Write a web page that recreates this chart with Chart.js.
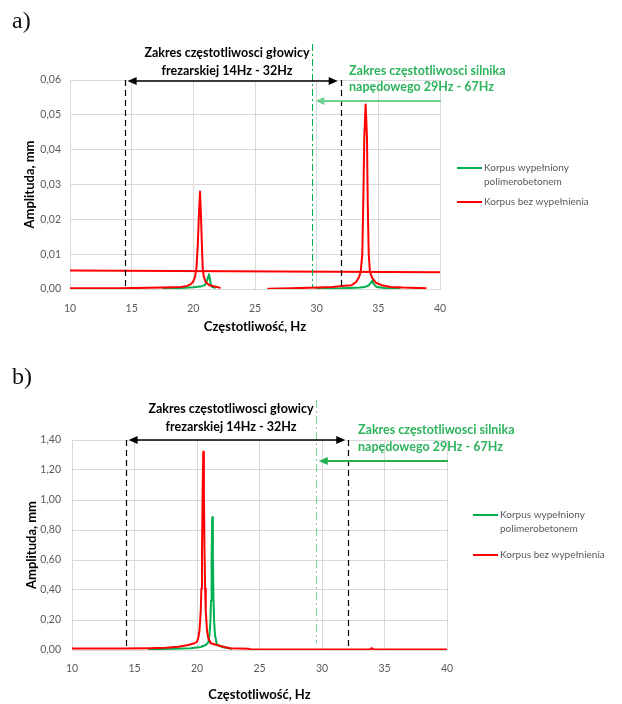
<!DOCTYPE html>
<html>
<head>
<meta charset="utf-8">
<script src="https://cdn.jsdelivr.net/npm/chart.js@4.4.1/dist/chart.umd.min.js"></script>
<style>
html,body{margin:0;padding:0;background:#fff;overflow:hidden;}
#wrap{position:relative;width:622px;height:704px;}
canvas{position:absolute;left:0;}
.tag{position:absolute;left:12px;font-family:"Liberation Serif","DejaVu Serif",serif;font-size:24px;color:#111;line-height:1;}
</style>
</head>
<body>
<div id="wrap">
  <canvas id="c-a" width="622" height="350" style="top:0"></canvas>
  <canvas id="c-b" width="622" height="354" style="top:350px"></canvas>
  <div class="tag" style="top:8px">a)</div>
  <div class="tag" style="top:364px">b)</div>
</div>
<script>
// axis ticks
var xTicks = [10, 15, 20, 25, 30, 35, 40];
var yTicksA = [0, 0.01, 0.02, 0.03, 0.04, 0.05, 0.06];
var yLabelsA = ['0,00', '0,01', '0,02', '0,03', '0,04', '0,05', '0,06'];
var yTicksB = [0, 0.2, 0.4, 0.6, 0.8, 1.0, 1.2, 1.4];
var yLabelsB = ['0,00', '0,20', '0,40', '0,60', '0,80', '1,00', '1,20', '1,40'];

var legendLabels = [['Korpus wypełniony', 'polimerobetonem'], ['Korpus bez wypełnienia']];
var millText = ['Zakres częstotliwosci głowicy', 'frezarskiej 14Hz - 32Hz'];
var motorText = ['Zakres częstotliwosci silnika', 'napędowego 29Hz - 67Hz'];

// a) Korpus bez wypełnienia
var hzRedA = [10, 14, 17.5, 19.0, 19.5, 19.8, 20.0, 20.14, 20.25, 20.35, 20.45, 20.54, 20.62, 20.7, 20.76, 20.85, 21.0, 21.3, 21.9, 22.2, 24,
  26, 28, 30, 31.3, 32.3, 32.84, 33.2, 33.45, 33.57, 33.7, 33.78, 33.86, 33.97, 34.08, 34.14, 34.22, 34.32, 34.5, 34.8, 35.27, 36, 37, 38.9];
var ampRedA = [0.0002, 0.0002, 0.0004, 0.0006, 0.0009, 0.0014, 0.0022, 0.0035, 0.006, 0.012, 0.021, 0.028, 0.021, 0.012, 0.006, 0.0035, 0.002, 0.0011, 0.0006, 0.0003, null,
  0.0001, 0.0002, 0.0004, 0.0006, 0.0009, 0.0011, 0.002, 0.0035, 0.005, 0.01, 0.025, 0.0435, 0.053, 0.0435, 0.025, 0.01, 0.005, 0.0032, 0.0018, 0.0011, 0.0006, 0.0004, 0.0002];
// a) Korpus wypełniony polimerobetonem
var hzGreenA = [17.5, 19, 20, 20.7, 20.95, 21.1, 21.2, 21.27, 21.35, 21.42, 21.5, 21.8, 25,
  29.9, 32, 33.5, 33.92, 34.2, 34.38, 34.51, 34.62, 34.86, 35.5, 36.8];
var ampGreenA = [0.0002, 0.0003, 0.0005, 0.0008, 0.0012, 0.0022, 0.0036, 0.0042, 0.0028, 0.0012, 0.0006, 0.0003, null,
  0.0001, 0.0002, 0.0004, 0.0006, 0.001, 0.0017, 0.0024, 0.0014, 0.0006, 0.0003, 0.0001];
// a) horizontal red level
var hzLevelA = [10, 40];
var ampLevelA = [0.0053, 0.0048];

// b) Korpus bez wypełnienia
var hzRedB = [10, 14, 16.2, 17.5, 18.5, 19.3, 19.8, 20.0, 20.1, 20.2, 20.3, 20.35, 20.4, 20.45, 20.5, 20.55, 20.6, 20.65, 20.7, 20.8, 20.9, 21.1, 21.58, 22.2, 22.64, 24.1, 24.3, 30, 33.8, 33.97, 34.15, 40];
var ampRedB = [0.01, 0.01, 0.012, 0.015, 0.022, 0.033, 0.045, 0.055, 0.08, 0.13, 0.26, 0.41, 0.66, 1.05, 1.322, 1.05, 0.66, 0.41, 0.26, 0.13, 0.08, 0.045, 0.033, 0.02, 0.012, 0.008, 0.003, 0.003, 0.003, 0.012, 0.003, 0.003];
// b) Korpus wypełniony polimerobetonem
var hzGreenB = [16.1, 18, 19.5, 20.3, 20.7, 20.9, 21.0, 21.07, 21.12, 21.17, 21.22, 21.27, 21.32, 21.37, 21.44, 21.58, 21.8, 22.1, 22.8];
var ampGreenB = [0.005, 0.008, 0.012, 0.02, 0.033, 0.05, 0.1, 0.19, 0.33, 0.63, 0.885, 0.63, 0.33, 0.19, 0.1, 0.04, 0.028, 0.018, 0.008];

// frequency ranges marked on the charts
var millRangeA = [14.43, 31.95], motorHzA = 29.65;
var millRangeB = [14.29, 32.1], motorHzB = 29.5;

var RED = '#ff0000', GREEN = '#00b050', GRID = '#d9d9d9', TICK = '#595959';
var FONT = 'Lato, "Open Sans", sans-serif';

function pts(xs, ys) {
  return xs.map(function(x, i) { return {x: x, y: ys[i]}; });
}

function arrowHead(ctx, x, y, dir) {
  ctx.beginPath();
  ctx.moveTo(x, y);
  ctx.lineTo(x - dir * 9, y - 4);
  ctx.lineTo(x - dir * 9, y + 4);
  ctx.closePath();
  ctx.fill();
}

var decoPlugin = {
  id: 'deco',
  afterDatasetsDraw: function(chart) {
    var d = chart.options.plugins.deco;
    var ctx = chart.ctx, xs = chart.scales.x, area = chart.chartArea;
    var x1 = xs.getPixelForValue(d.mill[0]), x2 = xs.getPixelForValue(d.mill[1]);
    var xm = xs.getPixelForValue(d.motor);
    ctx.save();
    // black dashed limits
    ctx.strokeStyle = '#000'; ctx.lineWidth = 1.2; ctx.setLineDash([6, 4]);
    [x1, x2].forEach(function(x) {
      ctx.beginPath(); ctx.moveTo(Math.round(x) + 0.5, d.blackTop); ctx.lineTo(Math.round(x) + 0.5, area.bottom); ctx.stroke();
    });
    // green dash-dot motor line
    ctx.strokeStyle = d.motorLine; ctx.lineWidth = 1; ctx.setLineDash(d.motorDash);
    ctx.beginPath(); ctx.moveTo(Math.round(xm) + 0.5, d.greenTop); ctx.lineTo(Math.round(xm) + 0.5, d.greenBottom); ctx.stroke();
    ctx.setLineDash([]);
    // black double arrow
    ctx.strokeStyle = '#000'; ctx.fillStyle = '#000'; ctx.lineWidth = 1.5;
    ctx.beginPath(); ctx.moveTo(x1 + 6, d.blackY); ctx.lineTo(x2 - 6, d.blackY); ctx.stroke();
    arrowHead(ctx, x1 + 3, d.blackY, -1);
    arrowHead(ctx, x2 - 3, d.blackY, 1);
    // green arrow
    ctx.strokeStyle = d.arrowGreen; ctx.fillStyle = d.arrowGreen; ctx.lineWidth = 1.8;
    ctx.beginPath(); ctx.moveTo(area.right + 1, d.greenY); ctx.lineTo(xm + 8, d.greenY); ctx.stroke();
    arrowHead(ctx, xm + 3, d.greenY, -1);
    // texts
    ctx.font = 'bold 12.5px ' + FONT;
    ctx.textBaseline = 'middle';
    ctx.fillStyle = '#000'; ctx.textAlign = 'center';
    ctx.fillText(millText[0], d.millX, d.millY[0]);
    ctx.fillText(millText[1], d.millX, d.millY[1]);
    ctx.fillStyle = '#2db35c'; ctx.textAlign = 'left';
    ctx.fillText(motorText[0], d.motorX, d.motorY[0]);
    ctx.fillText(motorText[1], d.motorX, d.motorY[1]);
    // legend
    var lg = d.legend;
    ctx.font = '10px ' + FONT; ctx.lineWidth = 2;
    [GREEN, RED].forEach(function(col, i) {
      ctx.strokeStyle = col;
      ctx.beginPath(); ctx.moveTo(lg.x, lg.y[i]); ctx.lineTo(lg.x + 25, lg.y[i]); ctx.stroke();
      ctx.fillStyle = TICK;
      legendLabels[i].forEach(function(t, k) { ctx.fillText(t, lg.x + 27, lg.y[i] + k * 14); });
    });
    ctx.restore();
  }
};

function makeChart(id, datasets, yTicks, yLabels, g, deco) {
  return new Chart(document.getElementById(id), {
    type: 'line',
    data: {datasets: datasets},
    plugins: [decoPlugin],
    options: {
      responsive: false, animation: false, devicePixelRatio: 1,
      layout: {padding: {left: 0, right: 622 - g.right, top: g.top, bottom: 0}},
      plugins: {legend: {display: false}, tooltip: {enabled: false}, deco: deco},
      elements: {point: {radius: 0}, line: {tension: 0, borderWidth: 2, borderJoinStyle: 'round'}},
      scales: {
        x: {
          type: 'linear', min: 10, max: 40,
          afterBuildTicks: function(s) { s.ticks = xTicks.map(function(v) { return {value: v}; }); },
          afterFit: function(s) { s.height = g.height - g.bottom; },
          grid: {color: GRID, drawTicks: false}, border: {color: GRID},
          ticks: {color: TICK, padding: g.xPad, font: {family: FONT, size: 10.5}},
          title: {display: true, text: 'Częstotliwość, Hz', color: '#000', font: {family: FONT, size: 13, weight: 'bold'}, padding: {top: 0, bottom: g.xTitlePad}}
        },
        y: {
          type: 'linear', min: 0, max: yTicks[yTicks.length - 1],
          afterBuildTicks: function(s) { s.ticks = yTicks.map(function(v) { return {value: v}; }); },
          afterFit: function(s) { s.width = g.left; },
          grid: {color: GRID, drawTicks: false}, border: {color: GRID},
          ticks: {color: TICK, padding: g.yPad, font: {family: FONT, size: 10.5}, callback: function(v, i) { return yLabels[i]; }},
          title: {display: true, text: 'Amplituda, mm', color: '#000', font: {family: FONT, size: 13, weight: 'bold'}, padding: {top: g.yTitlePad, bottom: 0}}
        }
      }
    }
  });
}

makeChart('c-a', [
  {label: 'Korpus bez wypełnienia', data: pts(hzRedA, ampRedA), borderColor: RED, spanGaps: false},
  {label: 'poziom', data: pts(hzLevelA, ampLevelA), borderColor: RED},
  {label: 'Korpus wypełniony polimerobetonem', data: pts(hzGreenA, ampGreenA), borderColor: GREEN, spanGaps: false}
], yTicksA, yLabelsA,
  {left: 70, right: 440, top: 80, bottom: 289, height: 350, xPad: 13, yPad: 9, xTitlePad: 15, yTitlePad: 22},
  {mill: millRangeA, motor: motorHzA, blackTop: 80, blackY: 81, greenTop: 44, greenBottom: 287, greenY: 101,
   motorLine: GREEN, motorDash: [7, 3, 2, 3], arrowGreen: '#6fcf90',
   millX: 227, millY: [53, 71], motorX: 349, motorY: [71, 87],
   legend: {x: 457, y: [168, 202]}});

makeChart('c-b', [
  {label: 'Korpus bez wypełnienia', data: pts(hzRedB, ampRedB), borderColor: RED},
  {label: 'Korpus wypełniony polimerobetonem', data: pts(hzGreenB, ampGreenB), borderColor: GREEN}
], yTicksB, yLabelsB,
  {left: 72, right: 447, top: 90, bottom: 300, height: 354, xPad: 12, yPad: 11, xTitlePad: 1, yTitlePad: 24},
  {mill: millRangeB, motor: motorHzB, blackTop: 90, blackY: 90, greenTop: 50, greenBottom: 293, greenY: 111,
   motorLine: '#7dd39a', motorDash: [8, 3, 2, 3], arrowGreen: '#22b04e',
   millX: 231, millY: [59, 77], motorX: 358, motorY: [80, 97],
   legend: {x: 473, y: [165, 205]}});
</script>
</body>
</html>
